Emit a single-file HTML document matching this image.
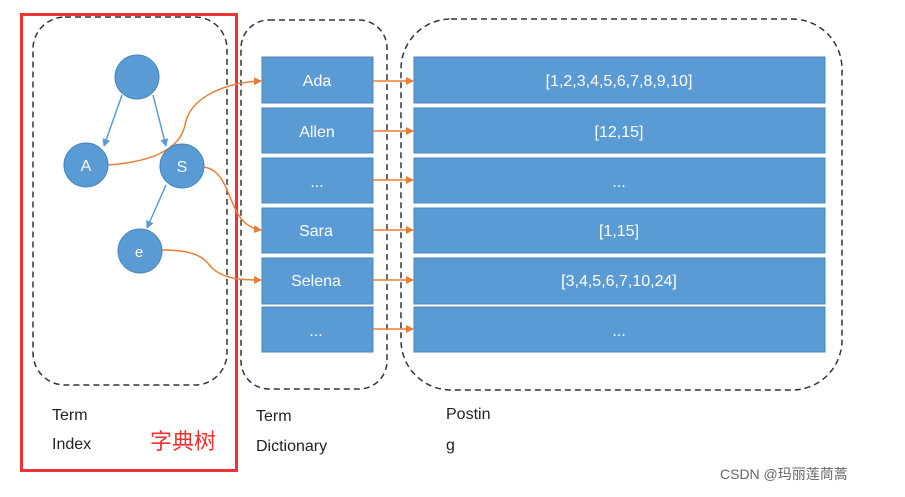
<!DOCTYPE html>
<html><head><meta charset="utf-8"><style>
body{margin:0;background:#fff;}
svg text{font-family:"Liberation Sans","Noto Sans CJK SC",sans-serif;}
</style></head><body>
<svg width="905" height="492" viewBox="0 0 905 492" xmlns="http://www.w3.org/2000/svg">
<defs>
<marker id="oa" markerWidth="8" markerHeight="8" refX="7" refY="4" orient="auto" markerUnits="userSpaceOnUse"><path d="M0,0 L8,4 L0,8 z" fill="#ED7D31"/></marker>
<marker id="ba" markerWidth="8" markerHeight="8" refX="7" refY="4" orient="auto" markerUnits="userSpaceOnUse"><path d="M0,0 L8,4 L0,8 z" fill="#5B9BD5"/></marker>
</defs>
<rect x="21.5" y="14.5" width="215" height="456" fill="none" stroke="#EE3333" stroke-width="3"/>
<rect x="33" y="17" width="194" height="368" rx="32" fill="none" stroke="#333" stroke-width="1.5" stroke-dasharray="6,4"/>
<rect x="241" y="20" width="146" height="369" rx="28" fill="none" stroke="#333" stroke-width="1.5" stroke-dasharray="6,4"/>
<rect x="401" y="19" width="441" height="371" rx="50" fill="none" stroke="#333" stroke-width="1.5" stroke-dasharray="6,4"/>
<g fill="#5B9BD5" stroke="#4A84B8" stroke-width="1">
<rect x="262" y="57" width="111" height="46"/><rect x="262" y="108" width="111" height="45"/><rect x="262" y="158" width="111" height="45"/><rect x="262" y="208" width="111" height="45"/><rect x="262" y="258" width="111" height="46"/><rect x="262" y="307" width="111" height="45"/>
<rect x="414" y="57" width="411" height="46"/><rect x="414" y="108" width="411" height="45"/><rect x="414" y="158" width="411" height="45"/><rect x="414" y="208" width="411" height="45"/><rect x="414" y="258" width="411" height="46"/><rect x="414" y="307" width="411" height="45"/>
</g>
<g fill="#fff" font-size="16" text-anchor="middle">
<text x="317" y="86">Ada</text><text x="317" y="137">Allen</text><text x="317" y="187">...</text><text x="316" y="236">Sara</text><text x="316" y="286">Selena</text><text x="316" y="336">...</text>
<text x="619" y="86">[1,2,3,4,5,6,7,8,9,10]</text><text x="619" y="137">[12,15]</text><text x="619" y="187">...</text><text x="619" y="236">[1,15]</text><text x="619" y="286">[3,4,5,6,7,10,24]</text><text x="619" y="336">...</text>
</g>
<g stroke="#ED7D31" stroke-width="1.5" fill="none" marker-end="url(#oa)">
<line x1="373" y1="81" x2="413" y2="81"/><line x1="373" y1="131" x2="413" y2="131"/><line x1="373" y1="180" x2="413" y2="180"/><line x1="373" y1="230" x2="413" y2="230"/><line x1="373" y1="280" x2="413" y2="280"/><line x1="373" y1="329" x2="413" y2="329"/>
<path d="M108,165 C150,162 180,150 185,125 C190,95 230,82 261,81"/>
<path d="M204,167 C235,172 225,225 261,230"/>
<path d="M162,250 C200,250 205,260 212,268 C225,280 245,280 261,280"/>
</g>
<g stroke="#5B9BD5" stroke-width="1.5" marker-end="url(#ba)">
<line x1="122" y1="95" x2="104" y2="146"/><line x1="153" y1="95" x2="166" y2="146"/><line x1="166" y1="185" x2="147" y2="228"/>
</g>
<g fill="#5B9BD5" stroke="#4A84B8">
<circle cx="137" cy="77" r="22"/><circle cx="86" cy="165" r="22"/><circle cx="182" cy="166" r="22"/><circle cx="140" cy="251" r="22"/>
</g>
<g fill="#fff" font-size="16" text-anchor="middle">
<text x="86" y="171">A</text><text x="182" y="172">S</text><text x="139" y="257" font-size="15">e</text>
</g>
<g fill="#222" font-size="16">
<text x="52" y="420">Term</text><text x="52" y="449">Index</text>
<text x="256" y="421">Term</text><text x="256" y="451">Dictionary</text>
<text x="446" y="419">Postin</text><text x="446" y="450">g</text>
</g>
<text x="150" y="449" fill="#EE3333" font-size="22">字典树</text>
<text x="720" y="479" fill="#666" font-size="14">CSDN @玛丽莲茼蒿</text>
</svg>
</body></html>
